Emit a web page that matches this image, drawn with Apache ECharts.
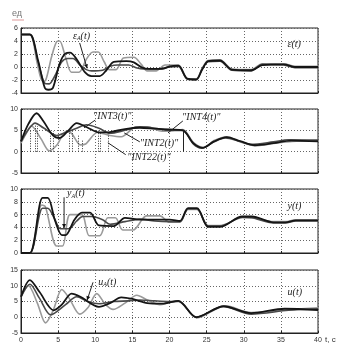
<!DOCTYPE html>
<html><head><meta charset="utf-8">
<script src="https://cdn.jsdelivr.net/npm/echarts@6/dist/echarts.min.js"></script>
<style>html,body{margin:0;padding:0;background:#fff}#c{width:348px;height:353px}</style>
</head><body><div id="c"></div>
<script>
// ---- time axis ----
const tMin = 0, tMax = 40, tStep = 5;

// ---- panel 1: epsilon ----
const epsMain = [[0,5],[1.2,5],[2.3,1],[3.2,-3.2],[3.7,-3.5],[4.3,-3.2],[5.2,0.5],[6.0,2.1],[6.6,2.2],[7.5,1.2],[8.6,-0.8],[9.5,-1.4],[10.6,-1.4],[11.5,-0.5],[12.5,0.8],[14.2,0.9],[15.2,0.7],[16.3,-0.1],[17.3,-0.3],[19,-0.3],[20,0.1],[21.2,0.2],[22.4,-1.8],[23.6,-1.9],[24.4,-0.4],[25.2,0.9],[26.8,1.0],[28.4,-0.4],[31,-0.5],[32.5,0.3],[35.4,0.4],[36.9,0.0],[40,0.0]];
const epsA    = [[0,5],[1.2,5],[2.3,0.8],[3.2,-2.5],[3.8,-2.6],[4.5,-1.5],[5.5,0.8],[6.3,1.3],[7.0,1.3],[8.0,0.2],[8.8,-0.4],[9.5,-0.6],[11,-0.5],[12,0.1],[13,0.3],[14.5,0.3],[15.5,-0.1],[16.5,-0.3],[18.5,-0.3],[20,0.0],[21.2,0.1],[22.4,-1.9],[23.6,-2.0],[24.4,-0.3],[25.2,0.8],[26.8,0.9],[28.4,-0.5],[31,-0.6],[32.5,0.4],[35.4,0.3],[36.9,-0.1],[40,-0.1]];
const epsLt   = [[0,5],[1.2,5],[2.2,0.5],[2.9,-2.2],[3.3,-2.1],[4.1,1.5],[4.8,3.9],[5.2,4.0],[6.0,1.5],[6.8,-0.8],[7.8,-0.8],[8.8,1.2],[9.7,2.3],[10.4,2.3],[11.2,0.8],[11.9,-0.4],[12.8,-0.4],[13.8,1.4],[15.2,1.5],[16.2,0.4],[17,-0.6],[18.2,-0.6],[19.4,0.3],[21.2,0.3],[22.4,-1.8],[23.6,-1.8],[24.4,-0.2],[25.2,1.0],[26.8,1.1],[28.4,-0.3],[31,-0.4],[32.5,0.5],[35.4,0.5],[36.9,0.1],[40,0.1]];

// ---- panel 2: INT ----
const int4  = [[0,2.4],[1.0,6.5],[2.1,9.0],[3.0,7.2],[4.3,3.8],[5.2,3.2],[6.4,5.0],[7.5,6.7],[9.0,5.6],[10.5,4.5],[12,4.6],[14,5.3],[16,5.6],[18,5.4],[20,5.2],[21.8,5.0],[23.2,2.0],[24.5,0.9],[26,2.4],[27.7,3.4],[29.5,2.5],[31.5,1.5],[34,2.0],[36.4,2.6],[40,2.4]];
const int3  = [[0,2.4],[1.0,5.2],[1.9,6.7],[3.0,5.6],[4.8,3.8],[6.0,4.5],[7.5,5.5],[8.8,6.3],[10.5,5.5],[12,4.3],[14,5.0],[16,5.8],[18,5.5],[20,5.0],[21.8,5.0],[23.2,1.8],[24.3,0.8],[26,2.3],[27.5,3.2],[29.5,2.4],[31,1.7],[34,2.3],[36,2.8],[40,2.7]];
const int22 = [[0,2.0],[0.8,4.6],[1.4,6.0],[2.7,3.0],[3.8,0.2],[4.8,1.5],[6.1,4.8],[6.8,4.3],[8.0,1.6],[8.7,1.8],[10.3,4.5],[12,3.8],[13.5,3.5],[15.5,5.8],[17,5.8],[19,4.8],[20.5,5.0],[21.8,5.2],[23.2,2.2],[24.6,1.0],[26,2.6],[27.7,3.5],[29.5,2.3],[31.5,1.4],[34,1.9],[36.5,2.4],[40,2.5]];
const stemT = [1.2,1.9,2.2,3.9,4.3,6.5,6.9,7.7,8.2,10.4,10.7,11.7];
const stemH = [5.2,6.2,6.0,4.5,4.8,5.0,5.0,3.8,2.6,5.0,4.6,4.2];
const cutT = 21.8, cutH = 5.0;

// ---- panel 3: y ----
const yMain = [[0,0],[1.2,0],[2.9,8.6],[3.6,8.6],[4.6,5.0],[5.5,2.8],[6.0,2.8],[7.2,5.2],[8.2,6.3],[9.3,6.3],[10.5,4.3],[12.5,4.2],[14,5.5],[16,5.2],[20,5.2],[21.4,5.0],[22.5,7.0],[23.7,7.0],[25.2,4.1],[26.8,4.1],[29.8,5.7],[31.1,5.7],[34,4.8],[35.6,4.8],[37,5.1],[40,5.1]];
const yA    = [[0,0],[1.2,0],[2.9,7.0],[3.6,7.0],[4.5,5.4],[5.3,3.8],[6.4,3.8],[7.5,5.0],[8.3,5.7],[9.5,5.7],[11,5.2],[12,4.5],[14,4.9],[16,5.3],[18,5.0],[20,4.9],[21.4,4.9],[22.5,6.9],[23.7,6.9],[25.2,4.2],[26.8,4.2],[29.8,5.6],[31.1,5.5],[34,4.7],[35.6,4.7],[37,5.0],[40,5.0]];
const yLt   = [[0,0],[1.2,0],[2.8,7.5],[3.3,7.2],[4.8,1.1],[5.6,1.1],[6.6,6.0],[8.2,6.0],[9.2,2.7],[10.6,2.7],[11.7,5.5],[12.7,5.5],[13.7,3.6],[15.1,3.6],[16.9,5.8],[18.7,5.8],[20,4.8],[21.4,4.8],[22.5,6.8],[23.7,6.8],[25.2,4.3],[26.8,4.3],[29.8,5.5],[31.1,5.5],[34,4.9],[35.6,4.9],[37,5.2],[40,5.2]];

// ---- panel 4: u ----
const uMain = [[0,6.5],[1.2,11.8],[2.5,8.0],[4.4,2.2],[5.5,4.0],[6.8,7.5],[8.0,6.5],[10.5,3.3],[12,4.5],[13.5,6.3],[15,5.8],[17,4.5],[19,4.3],[21.2,5.2],[23.6,0.0],[27.3,3.5],[31,1.3],[35.5,2.7],[40,2.3]];
const uA    = [[0,6.5],[1.2,10.5],[2.5,6.0],[4.0,0.8],[6.0,4.0],[7.5,6.5],[9.0,5.0],[10.5,4.3],[12.5,5.0],[14.5,5.2],[16,5.5],[18,5.2],[20,5.0],[21.2,5.1],[23.6,0.0],[27.2,3.4],[31,1.0],[36,2.2],[40,2.7]];
const uLt   = [[0,6.5],[1.0,10.0],[2.2,4.5],[3.3,-1.8],[4.3,2.0],[5.5,8.8],[6.5,6.0],[7.9,1.0],[9.0,3.0],[10.2,7.5],[11.4,4.0],[12.4,2.5],[14,4.5],[15.6,7.0],[17,5.5],[18.7,4.0],[20,4.7],[21.2,5.0],[23.7,-0.2],[27.5,3.6],[31,1.5],[36,2.4],[40,3.0]];

// ---- y ranges / ticks ----
const yMins = [-4,-5,0,-5], yMaxs = [6,10,10,15], ySteps = [2,5,2,5];

// ---- styling ----
const C_BLACK = '#151515', C_DARK = '#4a4a4a', C_LIGHT = '#9a9a9a';
const tops = [28,109,189,270], heights = [65,64,64,63];

const chart = echarts.init(document.getElementById('c'), null, {renderer:'canvas'});

const grids = tops.map((t,i)=>({left:21, right:30, top:t, height:heights[i], show:true, borderColor:'#222', borderWidth:1, backgroundColor:'transparent'}));
const xAxes = tops.map((t,i)=>({
  type:'value', gridIndex:i, min:tMin, max:tMax, interval:tStep,
  axisLine:{onZero:false, lineStyle:{color:'#222', width:1}},
  axisTick:{show:true, inside:true, length:2, lineStyle:{color:'#222'}},
  axisLabel:{show:i===3, fontSize:7, color:'#333', margin:4, fontFamily:'Liberation Sans'},
  splitLine:{show:true, lineStyle:{type:[1,2], color:'#666', width:1}}
}));
const yAxes = tops.map((t,i)=>({
  type:'value', gridIndex:i, min:yMins[i], max:yMaxs[i], interval:ySteps[i],
  axisLine:{onZero:false, lineStyle:{color:'#222', width:1}},
  axisTick:{show:true, inside:true, length:2, lineStyle:{color:'#222'}},
  axisLabel:{fontSize:7, color:'#333', margin:3, fontFamily:'Liberation Sans'},
  splitLine:{show:true, lineStyle:{type:[1,2], color:'#666', width:1}}
}));

function line(data, gi, color, w, z){
  return {type:'line', xAxisIndex:gi, yAxisIndex:gi, data:data, showSymbol:false, smooth:0.3,
    lineStyle:{color:color, width:w}, itemStyle:{color:color}, z:z, silent:true};
}
const series = [
  line(epsLt,0,C_LIGHT,1.6,2), line(epsA,0,C_DARK,1.6,3), line(epsMain,0,C_BLACK,1.8,4),
  line(int22,1,C_LIGHT,1.6,2), line(int3,1,C_DARK,1.6,3), line(int4,1,C_BLACK,1.8,4),
  line(yLt,2,C_LIGHT,1.6,2), line(yA,2,C_DARK,1.6,3), line(yMain,2,C_BLACK,1.8,4),
  line(uLt,3,C_LIGHT,1.6,2), line(uA,3,C_DARK,1.6,3), line(uMain,3,C_BLACK,1.8,4)
];
series[3].markLine = {symbol:'none', silent:true, label:{show:false},
  lineStyle:{type:[1,1.5], color:'#333', width:1},
  data: stemT.map((t,k)=>[{coord:[t,0]},{coord:[t,stemH[k]]}])};
series[5].markLine = {symbol:'none', silent:true, label:{show:false},
  lineStyle:{type:'solid', color:'#222', width:1},
  data: [[{coord:[cutT,0]},{coord:[cutT,cutH]}]]};

chart.setOption({animation:false, backgroundColor:'#fff', grid:grids, xAxis:xAxes, yAxis:yAxes, series:series});

// ---- annotations (data coords) ----
const notes = [
  {g:0, at:[7.0,4.6], rich:'eps', from:[7.9,3.7], to:[8.9,-0.2], arrow:true},
  {g:0, at:[35.9,3.4], txt:'ε(t)'},
  {g:1, at:[9.7,8.1], txt:'"INT3(t)"', from:[10.0,7.4], to:[8.5,5.6]},
  {g:1, at:[21.7,7.9], txt:'"INT4(t)"', from:[21.8,7.2], to:[19.8,4.4]},
  {g:1, at:[16.0,1.6], txt:'"INT2(t)"', from:[16.0,2.3], to:[13.9,4.4]},
  {g:1, at:[14.3,-1.5], txt:'"INT22(t)"', from:[14.1,-0.7], to:[11.7,2.1]},
  {g:2, at:[6.2,9.1], rich:'y', from:[5.8,8.7], to:[5.8,3.9], arrow:true},
  {g:2, at:[35.9,7.2], txt:'y(t)'},
  {g:3, at:[10.4,10.8], rich:'u', from:[9.7,11.1], to:[8.9,5.4], arrow:true},
  {g:3, at:[35.9,7.6], txt:'u(t)'}
];
const font = 'italic 10px "Liberation Serif"';
const graphic = [];
notes.forEach(n=>{
  const p = chart.convertToPixel({gridIndex:n.g}, n.at);
  if(n.rich){
    const base = n.rich==='eps'?'ε':n.rich;
    graphic.push({type:'text', left:p[0], top:p[1]-6, z:20, style:{
      text:'{a|'+base+'}{s|A}{a|(t)}',
      rich:{a:{font:font, fill:'#222'}, s:{font:'italic 6px "Liberation Serif"', fill:'#222', padding:[5,0,0,0]}}}});
  } else {
    graphic.push({type:'text', left:p[0], top:p[1]-6, z:20, style:{text:n.txt, font:font, fill:'#222'}});
  }
  if(n.from){
    const a = chart.convertToPixel({gridIndex:n.g}, n.from);
    const b = chart.convertToPixel({gridIndex:n.g}, n.to);
    graphic.push({type:'line', z:20, shape:{x1:a[0],y1:a[1],x2:b[0],y2:b[1]}, style:{stroke:'#222', lineWidth:1}});
    if(n.arrow){
      const ang = Math.atan2(b[1]-a[1], b[0]-a[0]);
      const L=4, W=2;
      const px = b[0]-L*Math.cos(ang), py = b[1]-L*Math.sin(ang);
      graphic.push({type:'polygon', z:20, shape:{points:[[b[0],b[1]],[px+W*Math.sin(ang),py-W*Math.cos(ang)],[px-W*Math.sin(ang),py+W*Math.cos(ang)]]}, style:{fill:'#111'}});
    }
  }
});
graphic.push({type:'text', left:12, top:9, z:20, style:{text:'ед', font:'9px "Liberation Sans"', fill:'#777'}});
graphic.push({type:'line', z:20, shape:{x1:12,y1:20,x2:24,y2:20}, style:{stroke:'#d99', lineWidth:1}});
graphic.push({type:'text', left:325, top:336, z:20, style:{text:'t, c', font:'8px "Liberation Sans"', fill:'#333'}});
chart.setOption({graphic:graphic});
</script>
</body></html>
